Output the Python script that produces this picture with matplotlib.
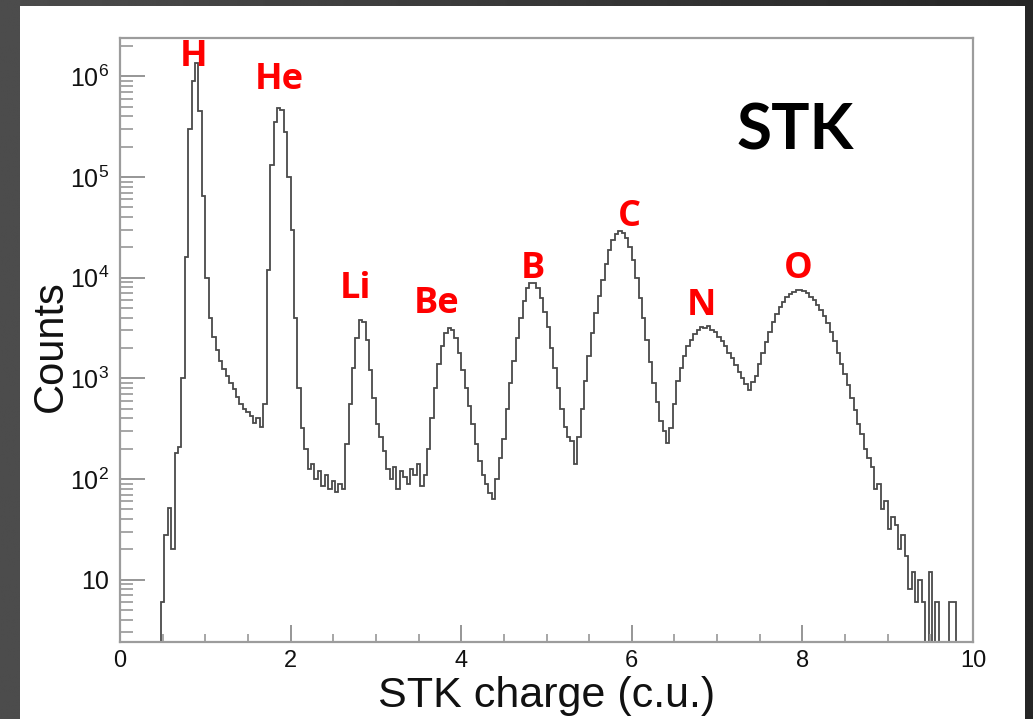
import numpy as np
import matplotlib
matplotlib.use("Agg")
import matplotlib.pyplot as plt
from matplotlib.patches import Rectangle
from matplotlib.ticker import MultipleLocator, FixedLocator, FuncFormatter, NullFormatter
from matplotlib import font_manager as fm

# ---------------------------------------------------------------------------
# STK charge spectrum (counts per 0.04 c.u. bin, starting at 0.48 c.u.)
# ---------------------------------------------------------------------------
charge_start = 0.48
bin_width = 0.04
counts = [
    6, 28, 52, 20, 180, 210, 1000, 16000, 300000, 900000,            # 0.48 - 0.88
    1350000, 450000, 65000, 10000, 4000, 2600, 1900, 1500, 1250, 1050,  # 0.88 - 1.28
    900, 780, 650, 560, 500, 460, 420, 360, 400, 330,               # 1.28 - 1.68
    560, 12000, 130000, 350000, 480000, 460000, 280000, 100000, 30000, 4000,  # 1.68 - 2.08
    800, 320, 200, 125, 140, 100, 120, 85, 110, 80,                 # 2.08 - 2.48
    95, 75, 90, 80, 220, 560, 1260, 2500, 3800, 3600,               # 2.48 - 2.88
    2400, 1200, 630, 350, 260, 190, 125, 100, 130, 80,              # 2.88 - 3.28
    120, 105, 90, 125, 110, 140, 85, 110, 200, 400,                 # 3.28 - 3.68
    800, 1380, 2100, 2800, 3150, 3000, 2500, 1780, 1200, 800,       # 3.68 - 4.08
    525, 350, 220, 150, 110, 90, 72, 63, 100, 160,                  # 4.08 - 4.48
    250, 500, 890, 1500, 2500, 4000, 5900, 7800, 8900, 8900,        # 4.48 - 4.88
    7800, 6300, 4600, 3200, 2000, 1260, 800, 500, 330, 260,         # 4.88 - 5.28
    240, 140, 260, 500, 950, 1660, 2800, 4500, 6600, 9500,          # 5.28 - 5.68
    13500, 18600, 23400, 27000, 29000, 28000, 25000, 20000, 14800, 10000,  # 5.68 - 6.08
    6300, 4000, 2400, 1450, 890, 575, 380, 300, 225, 320,           # 6.08 - 6.48
    560, 950, 1260, 1660, 2100, 2400, 2750, 3000, 3200, 3150,       # 6.48 - 6.88
    3300, 3000, 2900, 2600, 2350, 2100, 1800, 1580, 1350, 1150,     # 6.88 - 7.28
    1000, 870, 760, 910, 1050, 1400, 1800, 2300, 2900, 3600,        # 7.28 - 7.68
    4400, 5100, 5750, 6450, 6900, 7250, 7600, 7600, 7400, 7100,     # 7.68 - 8.08
    6450, 6000, 5400, 4800, 4200, 3550, 2900, 2350, 1800, 1400,     # 8.08 - 8.48
    1100, 850, 630, 480, 350, 280, 200, 160, 130, 80,               # 8.48 - 8.88
    90, 50, 60, 32, 42, 35, 20, 28, 17, 8,                          # 8.88 - 9.28
    12, 6, 10, 6, 0, 12, 0, 6, 0, 0,                                # 9.28 - 9.68
    0, 6, 6,                                                        # 9.68 - 9.80
]

# Element labels and where they sit (charge, counts at text baseline)
element_names = ["H", "He", "Li", "Be", "B", "C", "N", "O"]
element_label_x = [0.862, 1.864, 2.755, 3.716, 4.842, 5.967, 6.811, 7.948]
element_label_y = [1.26e6, 7.4e5, 6240, 4430, 9860, 3.24e4, 4230, 9860]

x_ticks = [0, 2, 4, 6, 8, 10]
y_decades = [1, 2, 3, 4, 5, 6]
x_label = "STK charge (c.u.)"
y_label = "Counts"
panel_title = "STK"

# ---------------------------------------------------------------------------
installed = {f.name for f in fm.fontManager.ttflist}
def pick(*names):
    for n in names:
        if n in installed:
            return n
    return "DejaVu Sans"

axis_font = pick("Liberation Sans", "Arial", "DejaVu Sans")
label_font = pick("Open Sans", "Noto Sans", "DejaVu Sans")
title_font = pick("Lato", "Open Sans", "DejaVu Sans")

plt.rcParams["font.family"] = [axis_font, "DejaVu Sans"]
plt.rcParams["mathtext.fontset"] = "custom"
plt.rcParams["mathtext.rm"] = axis_font
plt.rcParams["mathtext.it"] = axis_font + ":italic"
plt.rcParams["mathtext.bf"] = axis_font + ":bold"

W, H = 1033, 719
fig = plt.figure(figsize=(W / 100, H / 100), dpi=100)

# dark slide background with a soft horizontal shading, white panel on top
bg = fig.add_axes([0, 0, 1, 1], zorder=-10)
shade = np.linspace(0.30, 0.15, 512)[None, :] * np.ones((8, 1))
bg.imshow(shade, cmap="gray", vmin=0, vmax=1, aspect="auto",
          extent=[0, 1, 0, 1], interpolation="bilinear")
bg.add_patch(Rectangle((20 / W, 0), (1025 - 20) / W, (719 - 6) / H,
                       transform=bg.transAxes, facecolor="white",
                       edgecolor="none"))
bg.set_xlim(0, 1)
bg.set_ylim(0, 1)
bg.axis("off")

# main histogram axes
ax_l, ax_r, ax_t, ax_b = 120, 973, 38, 642
ax = fig.add_axes([ax_l / W, 1 - ax_b / H, (ax_r - ax_l) / W, (ax_b - ax_t) / H])
ax.set_facecolor("white")

vals = np.asarray(counts, dtype=float)
edges = charge_start + bin_width * np.arange(len(vals) + 1)
floor = 0.1
ax.stairs(np.where(vals > 0, vals, floor), edges, baseline=floor,
          color="#4a4a4a", linewidth=1.3)

ymin, ymax = 2.4, 2.4e6
ax.set_xlim(0, 10)
ax.set_yscale("log")
ax.set_ylim(ymin, ymax)

# ticks only inside the visible range
major_y = [10.0 ** e for e in y_decades]
minor_y = [m * 10.0 ** e for e in range(0, 7) for m in range(2, 10)
           if ymin <= m * 10.0 ** e <= ymax]
ax.xaxis.set_major_locator(FixedLocator(x_ticks))
ax.xaxis.set_minor_locator(MultipleLocator(0.5))
ax.yaxis.set_major_locator(FixedLocator(major_y))
ax.yaxis.set_minor_locator(FixedLocator(minor_y))
ax.yaxis.set_minor_formatter(NullFormatter())

def log_fmt(v, _):
    e = int(round(np.log10(v)))
    if e == 1:
        return "10"
    return r"$\mathregular{10^{%d}}$" % e

ax.yaxis.set_major_formatter(FuncFormatter(log_fmt))
ax.xaxis.set_major_formatter(FuncFormatter(lambda v, _: "%d" % v))

tick_col = "#8e8e8e"
ax.tick_params(axis="both", which="both", direction="in", color=tick_col,
               top=False, right=False, labelcolor="#111111")
ax.tick_params(axis="y", which="major", length=18, width=1.3, pad=8, labelsize=18)
ax.tick_params(axis="y", which="minor", length=9, width=1.1)
ax.tick_params(axis="x", which="major", length=12, width=1.3, pad=6, labelsize=17)
ax.tick_params(axis="x", which="minor", length=6, width=1.1)
for sp in ax.spines.values():
    sp.set_color("#9c9c9c")
    sp.set_linewidth(1.6)

ax.set_xlabel(x_label, fontsize=31, va="baseline", color="#111111")
ax.xaxis.set_label_coords(0.5, (ax_b - 707) / (ax_b - ax_t))
ax.set_ylabel(y_label, fontsize=30, va="center", ha="center", color="#111111")
ax.yaxis.set_label_coords((51 - ax_l) / (ax_r - ax_l), (ax_b - 346) / (ax_b - ax_t))

for name, lx, ly in zip(element_names, element_label_x, element_label_y):
    ax.text(lx, ly, name, ha="center", va="baseline", color="#ff0000",
            fontsize=26, fontweight="bold", family=[label_font, "DejaVu Sans"])

ax.text((795 - ax_l) / (ax_r - ax_l), (ax_b - 150) / (ax_b - ax_t), panel_title,
        transform=ax.transAxes, ha="center", va="baseline", fontsize=46,
        fontweight="bold", color="black", family=[title_font, "DejaVu Sans"])

fig.savefig("out.png", dpi=100)
